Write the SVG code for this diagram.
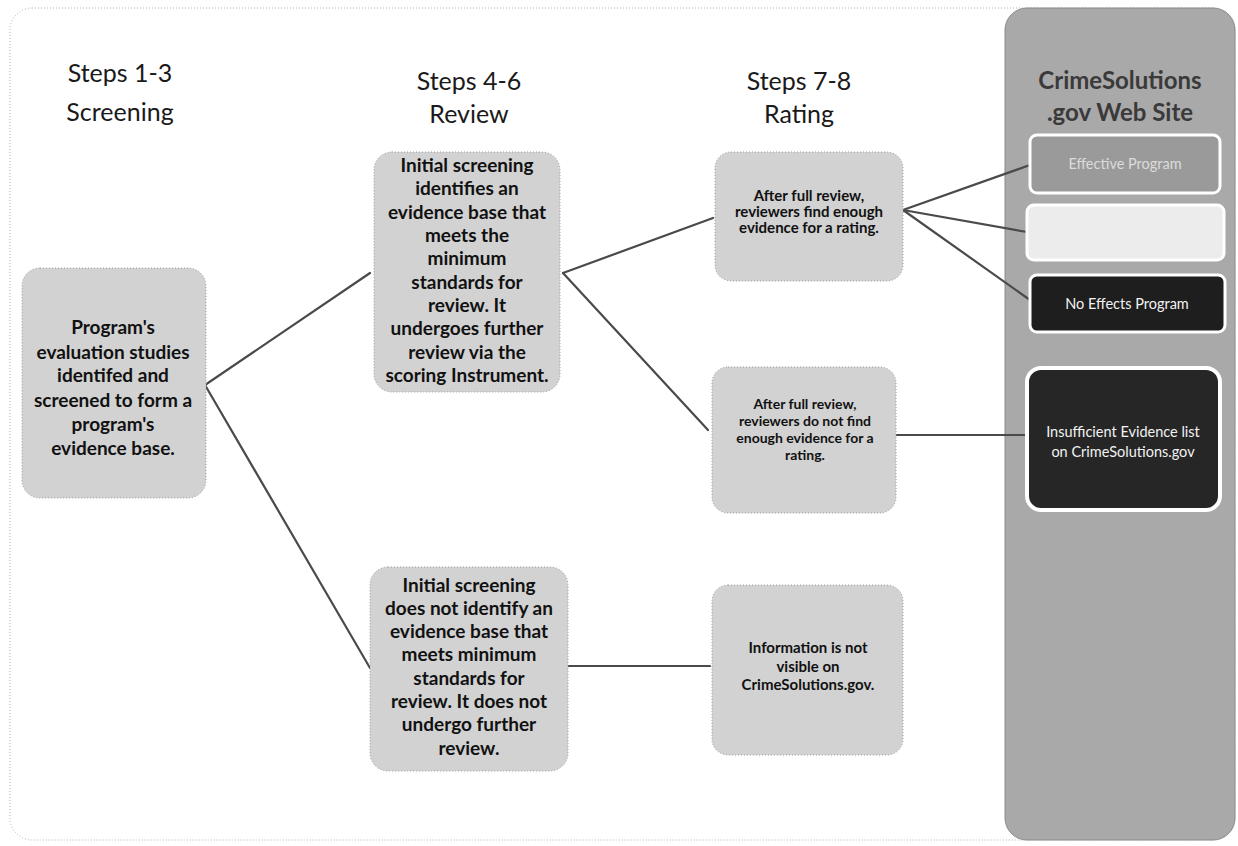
<svg xmlns="http://www.w3.org/2000/svg" width="1238" height="846" viewBox="0 0 1238 846">
<defs>
<style>
.hdr{font-family:Lato,"Liberation Sans",sans-serif;font-size:25px;fill:#1a1a1a;text-anchor:middle}
.site{font-family:Lato,"Liberation Sans",sans-serif;font-size:24px;font-weight:700;fill:#3a3a3a;text-anchor:middle}
.big{font-family:Lato,"Liberation Sans",sans-serif;font-size:19px;font-weight:700;fill:#111;text-anchor:middle}
.sm{font-family:Lato,"Liberation Sans",sans-serif;font-size:15px;font-weight:700;fill:#111;text-anchor:middle}
.smd{font-family:Lato,"Liberation Sans",sans-serif;font-size:14px;font-weight:700;fill:#111;text-anchor:middle}
.wt{font-family:Lato,"Liberation Sans",sans-serif;font-size:14.5px;fill:#f2f2f2;text-anchor:middle}
.node{fill:#d2d2d2;stroke:#9a9a9a;stroke-width:1;stroke-dasharray:1 2}
.conn{stroke:#4a4a4a;stroke-width:2.2;fill:none;stroke-linecap:round}
</style>
</defs>
<rect x="10" y="8" width="1225" height="832" rx="22" fill="#ffffff" stroke="#b0b0b0" stroke-width="1" stroke-dasharray="1 2"/>
<g id="site-panel">
<rect x="1005" y="8" width="230" height="832" rx="22" fill="#a9a9a9" stroke="#8a8a8a" stroke-width="1"/>
<text class="site" x="1120" y="89">CrimeSolutions</text>
<text class="site" x="1120" y="121">.gov Web Site</text>
</g>
<g id="headers">
<text class="hdr" x="120" y="82">Steps 1-3</text>
<text class="hdr" x="120" y="121">Screening</text>
<text class="hdr" x="469" y="90">Steps 4-6</text>
<text class="hdr" x="469" y="123">Review</text>
<text class="hdr" x="799" y="90">Steps 7-8</text>
<text class="hdr" x="799" y="123">Rating</text>
</g>
<g id="connectors">
<line class="conn" x1="205" y1="385" x2="370" y2="273"/>
<line class="conn" x1="205" y1="385" x2="370" y2="668"/>
<line class="conn" x1="563" y1="273" x2="713" y2="218"/>
<line class="conn" x1="563" y1="273" x2="708" y2="430"/>
<line class="conn" x1="568" y1="666" x2="710" y2="666"/>
<line class="conn" x1="903" y1="210" x2="1030" y2="165"/>
<line class="conn" x1="903" y1="210" x2="1027" y2="232"/>
<line class="conn" x1="903" y1="210" x2="1030" y2="300"/>
<line class="conn" x1="895" y1="435" x2="1025" y2="435"/>
</g>
<g id="node-screening">
<rect class="node" x="22" y="268" width="184" height="230" rx="18"/>
<text class="big" x="113" y="334">Program's</text>
<text class="big" x="113" y="359">evaluation studies</text>
<text class="big" x="113" y="382">identifed and</text>
<text class="big" x="113" y="407">screened to form a</text>
<text class="big" x="113" y="431">program's</text>
<text class="big" x="113" y="455">evidence base.</text>
</g>
<g id="node-review-yes">
<rect class="node" x="374" y="152" width="186" height="240" rx="18"/>
<text class="big" x="467" y="172">Initial screening</text>
<text class="big" x="467" y="195">identifies an</text>
<text class="big" x="467" y="219">evidence base that</text>
<text class="big" x="467" y="242">meets the</text>
<text class="big" x="467" y="265">minimum</text>
<text class="big" x="467" y="289">standards for</text>
<text class="big" x="467" y="312">review.  It</text>
<text class="big" x="467" y="335">undergoes further</text>
<text class="big" x="467" y="359">review via the</text>
<text class="big" x="467" y="382">scoring Instrument.</text>
</g>
<g id="node-review-no">
<rect class="node" x="370" y="567" width="198" height="204" rx="18"/>
<text class="big" x="469" y="592">Initial screening</text>
<text class="big" x="469" y="615">does not identify an</text>
<text class="big" x="469" y="638">evidence base that</text>
<text class="big" x="469" y="661">meets minimum</text>
<text class="big" x="469" y="685">standards for</text>
<text class="big" x="469" y="708">review. It does not</text>
<text class="big" x="469" y="731">undergo further</text>
<text class="big" x="469" y="755">review.</text>
</g>
<g id="node-rating-yes">
<rect class="node" x="715" y="152" width="188" height="129" rx="16"/>
<text class="sm" x="809" y="201">After full review,</text>
<text class="sm" x="809" y="217">reviewers find enough</text>
<text class="sm" x="809" y="233">evidence for a rating.</text>
</g>
<g id="node-rating-no">
<rect class="node" x="712" y="367" width="184" height="146" rx="16"/>
<text class="smd" x="805" y="409">After full review,</text>
<text class="smd" x="805" y="426">reviewers do not find</text>
<text class="smd" x="805" y="443">enough evidence for a</text>
<text class="smd" x="805" y="460">rating.</text>
</g>
<g id="node-not-visible">
<rect class="node" x="712" y="585" width="191" height="170" rx="16"/>
<text class="sm" x="808" y="653">Information  is not</text>
<text class="sm" x="808" y="672">visible on</text>
<text class="sm" x="808" y="690">CrimeSolutions.gov.</text>
</g>
<g id="node-effective">
<rect x="1030" y="135" width="190" height="58" rx="7" fill="#9a9a9a" stroke="#ffffff" stroke-width="3"/>
<text class="wt" x="1125" y="169" style="fill:#dcdcdc">Effective Program</text>
</g>
<g id="node-blank">
<rect x="1027" y="205" width="197" height="55" rx="7" fill="#ececec" stroke="#ffffff" stroke-width="3"/>
</g>
<g id="node-no-effects">
<rect x="1030" y="275" width="195" height="57" rx="7" fill="#1e1e1e" stroke="#ffffff" stroke-width="3"/>
<text class="wt" x="1127" y="309">No Effects Program</text>
</g>
<g id="node-insufficient">
<rect x="1027" y="368" width="193" height="142" rx="14" fill="#262626" stroke="#ffffff" stroke-width="4"/>
<text class="wt" x="1123" y="437">Insufficient Evidence list</text>
<text class="wt" x="1123" y="457">on CrimeSolutions.gov</text>
</g>
</svg>
